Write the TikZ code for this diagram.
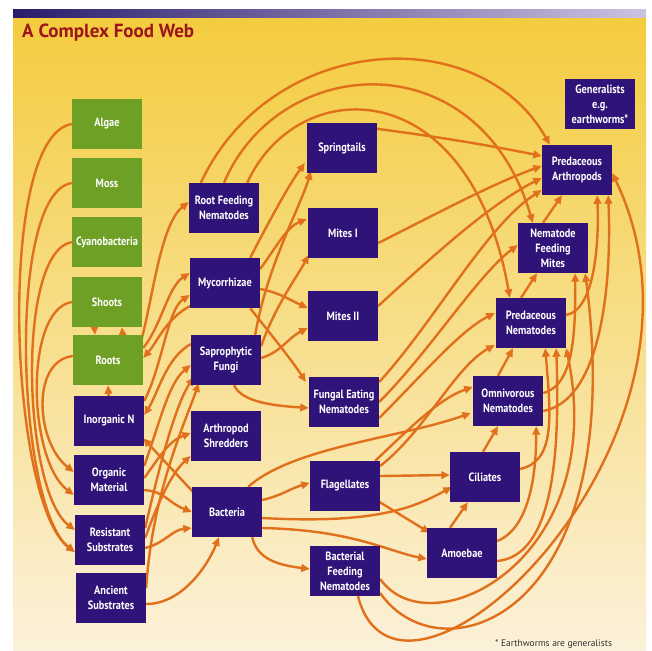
\documentclass[tikz,border=0pt]{standalone}
\usepackage{fontspec}
\setmainfont{PT Sans}
\newfontfamily\boxfont{PT Sans}[FakeStretch=0.86]
\usetikzlibrary{arrows.meta,calc}
\definecolor{purp}{RGB}{47,19,120}
\definecolor{leaf}{RGB}{110,160,38}
\definecolor{arrowc}{RGB}{224,112,28}
\definecolor{titlered}{RGB}{158,20,28}
\definecolor{ytop}{RGB}{244,204,62}
\definecolor{ymid}{RGB}{248,220,125}
\definecolor{ybot}{RGB}{251,241,218}
\definecolor{bar1}{RGB}{42,28,107}
\definecolor{bar2}{RGB}{205,194,226}
\pgfdeclarelayer{bg}
\pgfdeclarelayer{edges}
\pgfsetlayers{bg,edges,main}
\begin{document}
\begin{tikzpicture}[x=1pt,y=-1pt,
  box/.style={fill=purp, text=white, minimum width=70pt, minimum height=50pt,
    inner sep=1pt, align=center, font=\boxfont\bfseries\fontsize{12}{15}\selectfont},
  gbox/.style={box, fill=leaf},
  arr/.style={draw=arrowc, line width=2.4pt, -{Triangle[length=8.5pt,width=7.5pt]}}]
\useasboundingbox (0,0) rectangle (652,650);
\begin{pgfonlayer}{bg}
\fill[white] (0,0) rectangle (652,650);
\shade[top color=ytop, middle color=ymid, bottom color=ybot] (13,18) rectangle (646,650);
\shade[left color=bar1, right color=bar2] (13,10) rectangle (646,18);
\end{pgfonlayer}
\node[anchor=base west, text=titlered, font=\bfseries\fontsize{19}{22}\selectfont, inner sep=0pt] (title) at (22,38) {A Complex Food Web};
% column 1
\node[gbox] (alg) at (107,124) {Algae};
\node[gbox] (moss) at (107,183) {Moss};
\node[gbox] (cyan) at (107,242) {Cyanobacteria};
\node[gbox] (shoots) at (107,302) {Shoots};
\node[gbox] (roots) at (108,360) {Roots};
\node[box] (inorg) at (109,421) {Inorganic N};
\node[box] (org) at (109,480) {Organic\\Material};
\node[box] (res) at (110,540) {Resistant\\Substrates};
\node[box] (anc) at (111,598) {Ancient\\Substrates};
% column 2
\node[box] (rfn) at (224,208) {Root Feeding\\Nematodes};
\node[box] (myc) at (225,283) {Mycorrhizae};
\node[box] (sap) at (226,360) {Saprophytic\\Fungi};
\node[box] (shred) at (226,436) {Arthropod\\Shredders};
\node[box] (bact) at (227,512) {Bacteria};
% column 3
\node[box] (spring) at (342,148) {Springtails};
\node[box] (mites1) at (343,233) {Mites I};
\node[box] (mites2) at (343,316) {Mites II};
\node[box] (fen) at (344,402) {Fungal Eating\\Nematodes};
\node[box] (flag) at (345,486) {Flagellates};
\node[box] (bfn) at (345,571) {Bacterial\\Feeding\\Nematodes};
% column 4
\node[box] (cil) at (485,477) {Ciliates};
\node[box] (amoe) at (462,553) {Amoebae};
\node[box] (omni) at (508,401) {Omnivorous\\Nematodes};
\node[box] (pn) at (531,323) {Predaceous\\Nematodes};
\node[box] (nfm) at (553,248) {Nematode\\Feeding\\Mites};
\node[box] (pa) at (577,170) {Predaceous\\Arthropods};
\node[box] (gen) at (600,104) {Generalists\\e.g.\\earthworms*};
\node[anchor=base west, font=\fontsize{9.5}{11}\selectfont, text=black!80, inner sep=0pt] (note) at (495,646) {* Earthworms are generalists};
\begin{pgfonlayer}{edges}
% left bundle
\draw[arr] (alg.west) .. controls +(-76,12) and +(-66,-50) .. ($(res.west)+(0,12)$);
\draw[arr] (moss.west) .. controls +(-66,10) and +(-58,-45) .. ($(res.west)+(0,12)$);
\draw[arr] (cyan.west) .. controls +(-56,10) and +(-52,-40) .. ($(res.west)+(0,-10)$);
\draw[arr] (shoots.west) .. controls +(-48,8) and +(-46,-35) .. ($(org.west)+(0,15)$);
\draw[arr] ($(roots.west)+(0,-4)$) .. controls +(-42,5) and +(-38,-30) .. ($(org.west)+(0,-8)$);
% shoots / roots / inorganic N
\draw[arr] ($(shoots.south)+(-13,-6)$) -- ($(roots.north)+(-13,0)$);
\draw[arr] ($(roots.north)+(15,6)$) -- ($(shoots.south)+(15,0)$);
\draw[arr] ($(inorg.north)+(0,6)$) -- (roots.south);
% column 1 -> column 2
\draw[arr] ($(roots.north east)+(-2,6)$) .. controls +(12,-45) and +(-28,22) .. ($(rfn.west)+(0,-6)$);
\draw[arr] ($(roots.east)+(0,-12)$) .. controls +(18,-22) and +(-22,14) .. ($(myc.west)+(0,-10)$);
\draw[arr] ($(inorg.east)+(0,-20)$) .. controls +(18,-35) and +(-22,14) .. ($(myc.west)+(0,12)$);
\draw[arr] ($(myc.south west)+(2,-3)$) .. controls +(-25,12) and +(14,-16) .. ($(roots.east)+(0,-2)$);
\draw[arr] ($(sap.west)+(0,-16)$) .. controls +(-25,14) and +(14,-22) .. ($(inorg.east)+(0,-6)$);
\draw[arr] ($(org.east)+(0,-14)$) .. controls +(16,-45) and +(-22,18) .. ($(sap.west)+(0,5)$);
\draw[arr] ($(res.east)+(0,-12)$) .. controls +(16,-70) and +(-18,28) .. ($(sap.west)+(3,17)$);
\draw[arr] ($(anc.east)+(0,-10)$) .. controls +(6,-95) and +(-14,40) .. ($(sap.south west)+(8,-2)$);
\draw[arr] ($(org.east)+(0,-2)$) .. controls +(16,-22) and +(-22,8) .. ($(shred.west)+(0,-3)$);
\draw[arr] ($(res.east)+(0,-2)$) .. controls +(16,-45) and +(-16,14) .. ($(shred.west)+(0,20)$);
\draw[arr] ($(org.east)+(0,10)$) .. controls +(22,2) and +(-25,-10) .. (bact.west);
\draw[arr] ($(res.east)+(0,8)$) .. controls +(20,-5) and +(-20,2) .. ($(bact.west)+(0,16)$);
\draw[arr] ($(anc.east)+(0,6)$) .. controls +(35,0) and +(-12,30) .. ($(bact.south)+(-8,0)$);
\draw[arr] ($(bact.north west)+(2,6)$) -- ($(inorg.south east)+(-1,-8)$);
% column 2 -> column 3
\draw[arr] ($(myc.north east)+(-10,0)$) .. controls +(18,-35) and +(-16,22) .. ($(spring.west)+(-2,15)$);
\draw[arr] ($(sap.north east)+(-6,0)$) .. controls +(12,-70) and +(-10,35) .. ($(spring.south west)+(4,-2)$);
\draw[arr] ($(myc.east)+(0,-14)$) .. controls +(16,-22) and +(-20,8) .. ($(mites1.west)+(-1,-14)$);
\draw[arr] ($(sap.east)+(0,-14)$) .. controls +(14,-40) and +(-12,22) .. ($(mites1.west)+(1,22)$);
\draw[arr] ($(myc.east)+(0,6)$) .. controls +(20,4) and +(-22,-10) .. ($(mites2.west)+(0,-8)$);
\draw[arr] ($(sap.east)+(0,-2)$) .. controls +(20,-6) and +(-20,10) .. ($(mites2.west)+(0,12)$);
\draw[arr] ($(myc.south east)+(-10,0)$) .. controls +(22,28) and +(-14,-22) .. ($(fen.west)+(-3,-20)$);
\draw[arr] ($(sap.south)+(8,0)$) .. controls +(8,18) and +(-30,-2) .. ($(fen.west)+(0,6)$);
\draw[arr] ($(bact.east)+(0,-12)$) .. controls +(18,-4) and +(-18,5) .. ($(flag.west)+(0,-3)$);
\draw[arr] ($(bact.south east)+(-10,0)$) .. controls +(5,22) and +(-32,-4) .. ($(bfn.west)+(0,-2)$);
\draw[arr] ($(bact.east)+(0,6)$) .. controls +(110,6) and +(-40,22) .. ($(cil.west)+(2,10)$);
\draw[arr] ($(bact.east)+(0,16)$) .. controls +(90,2) and +(-40,-8) .. ($(amoe.west)+(0,6)$);
\draw[arr] ($(bact.north east)+(-14,0)$) .. controls +(45,-40) and +(-70,25) .. ($(omni.west)+(-2,12)$);
% column 3 -> right
\draw[arr] ($(flag.north east)+(-5,0)$) .. controls +(30,-28) and +(-35,12) .. ($(omni.west)+(0,-14)$);
\draw[arr] ($(flag.east)+(0,-20)$) .. controls +(45,-35) and +(-40,22) .. ($(pn.west)+(-1,22)$);
\draw[arr] ($(fen.east)+(0,-20)$) .. controls +(55,-60) and +(-55,35) .. ($(pa.west)+(0,20)$);
\draw[arr] (fen.east) .. controls +(50,-50) and +(-40,30) .. ($(nfm.west)+(0,-3)$);
\draw[arr] ($(fen.east)+(0,16)$) .. controls +(45,-45) and +(-35,18) .. ($(pn.west)+(-1,-10)$);
\draw[arr] ($(spring.north east)+(0,6)$) .. controls +(60,8) and +(-60,-12) .. ($(pa.west)+(0,-14)$);
\draw[arr] ($(mites1.east)+(0,10)$) .. controls +(60,-30) and +(-50,18) .. ($(pa.west)+(0,-4)$);
\draw[arr] ($(mites2.east)+(0,-10)$) .. controls +(60,-55) and +(-50,25) .. ($(pa.west)+(0,8)$);
% top arcs from root feeding nematodes
\draw[arr] ($(rfn.north west)+(12,0)$) .. controls +(70,-150) and +(-70,-125) .. ($(pa.north west)+(8,0)$);
\draw[arr] (rfn.north) .. controls +(55,-130) and +(-54,-183) .. ($(nfm.north west)+(15,0)$);
\draw[arr] ($(rfn.north east)+(-12,0)$) .. controls +(50,-110) and +(-40,-228) .. ($(pn.north west)+(14,0)$);
% column 4 internal
\draw[arr] ($(flag.east)+(0,-10)$) -- ($(cil.west)+(0,-2)$);
\draw[arr] ($(flag.south east)+(-2,-10)$) -- ($(amoe.north west)+(3,5)$);
\draw[arr] ($(amoe.north)+(-12,0)$) -- ($(cil.south west)+(18,0)$);
\draw[arr] ($(cil.north)+(-2,0)$) -- ($(omni.south)+(-10,0)$);
\draw[arr] ($(omni.north)+(-10,0)$) -- ($(pn.south)+(-18,0)$);
\draw[arr] ($(pn.north)+(-10,0)$) -- ($(nfm.south)+(-16,0)$);
\draw[arr] ($(nfm.north)+(-10,0)$) -- ($(pa.south)+(-15,0)$);
% right side curves
\draw[arr] ($(pn.east)+(0,-8)$) .. controls +(28,-5) and +(2,50) .. ($(pa.south east)+(-15,0)$);
\draw[arr] ($(omni.east)+(0,-8)$) .. controls +(32,-8) and +(0,55) .. ($(nfm.south east)+(-13,0)$);
\draw[arr] ($(omni.east)+(0,10)$) .. controls +(55,-10) and +(4,100) .. ($(pa.south east)+(-4,0)$);
\draw[arr] ($(cil.east)+(0,-8)$) .. controls +(35,-8) and +(6,70) .. ($(pn.south east)+(-21,0)$);
\draw[arr] ($(amoe.east)+(0,-12)$) .. controls +(30,-12) and +(0,55) .. ($(omni.south east)+(-7,0)$);
\draw[arr] ($(amoe.east)+(0,8)$) .. controls +(55,-5) and +(4,110) .. ($(pn.south east)+(-10,0)$);
\draw[arr] ($(bfn.east)+(0,8)$) .. controls +(50,71) and +(44,212) .. (pn.south east);
\draw[arr] ($(bfn.east)+(0,22)$) .. controls +(60,87) and +(45,346) .. ($(nfm.south east)+(-3,0)$);
\draw[arr] ($(bfn.south)+(13,0)$) .. controls +(42,163) and +(128,267) .. ($(pa.east)+(0,3)$);
\end{pgfonlayer}
\end{tikzpicture}
\end{document}
